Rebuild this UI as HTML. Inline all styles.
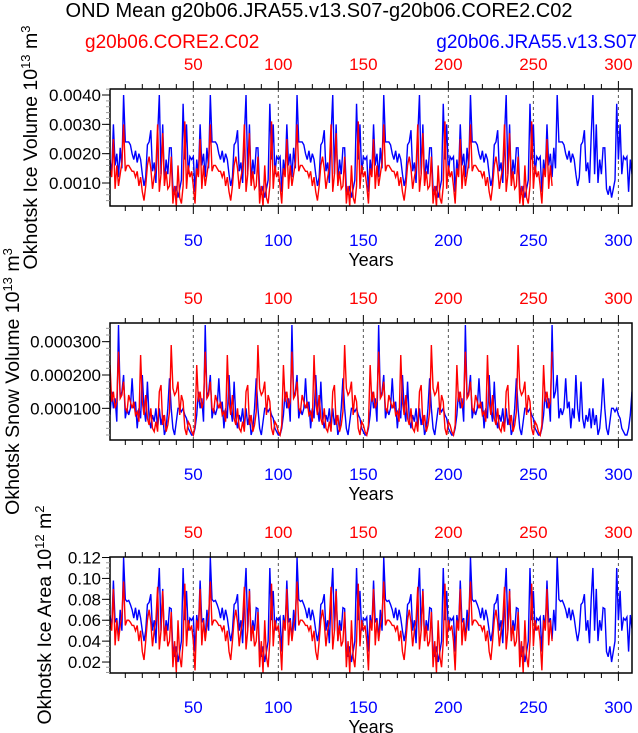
<!DOCTYPE html>
<html><head><meta charset="utf-8"><style>
html,body{margin:0;padding:0;background:#fff}
svg{display:block;font-family:"Liberation Sans",sans-serif}
</style></head><body>
<svg id="chart" width="638" height="733" viewBox="0 0 638 733" xmlns="http://www.w3.org/2000/svg">
<text x="319" y="17" font-size="20" text-anchor="middle">OND Mean g20b06.JRA55.v13.S07-g20b06.CORE2.C02</text>
<text x="85" y="48" font-size="19" fill="#ff0000">g20b06.CORE2.C02</text>
<text x="637" y="48" font-size="19" fill="#0000ff" text-anchor="end">g20b06.JRA55.v13.S07</text>
</svg>
<script>
// ---- data (one repeating forcing cycle, written out literally) ----
const volBlue=[.0018,.0013,.0030,.0016,.0020,.0012,.0022,.0015,.0040,.0024,.0024,.0024,.0023,.0020,.0018,.0021,.0017,.0020,.0018,.0013,.0009,.0012,.0023,.0024,.0028,.0014,.0017,.0010,.0026,.0040,.0013,.0030,.0010,.0018,.0013,.0022,.0022,.0008,.0006,.0009,.0005,.0008,.0011,.0037,.0018,.0030,.0013,.0019,.0018,.0019,.0007,
.0018,.0013,.0030,.0016,.0020,.0012,.0022,.0015,.0040,.0024,.0024,.0024,.0023,.0020,.0018,.0021,.0017,.0020,.0018,.0013,.0009,.0012,.0023,.0024,.0028,.0014,.0017,.0010,.0026,.0040,.0013,.0030,.0010,.0018,.0013,.0022,.0022,.0008,.0006,.0009,.0005,.0008,.0011,.0037,.0018,.0030,.0013,.0019,.0018,.0019,.0007,
.0018,.0013,.0030,.0016,.0020,.0012,.0022,.0015,.0040,.0024,.0024,.0024,.0023,.0020,.0018,.0021,.0017,.0020,.0018,.0013,.0009,.0012,.0023,.0024,.0028,.0014,.0017,.0010,.0026,.0040,.0013,.0030,.0010,.0018,.0013,.0022,.0022,.0008,.0006,.0009,.0005,.0008,.0011,.0037,.0018,.0030,.0013,.0019,.0018,.0019,.0007,
.0018,.0013,.0030,.0016,.0020,.0012,.0022,.0015,.0040,.0024,.0024,.0024,.0023,.0020,.0018,.0021,.0017,.0020,.0018,.0013,.0009,.0012,.0023,.0024,.0028,.0014,.0017,.0010,.0026,.0040,.0013,.0030,.0010,.0018,.0013,.0022,.0022,.0008,.0006,.0009,.0005,.0008,.0011,.0037,.0018,.0030,.0013,.0019,.0018,.0019,.0007,
.0018,.0013,.0030,.0016,.0020,.0012,.0022,.0015,.0040,.0024,.0024,.0024,.0023,.0020,.0018,.0021,.0017,.0020,.0018,.0013,.0009,.0012,.0023,.0024,.0028,.0014,.0017,.0010,.0026,.0040,.0013,.0030,.0010,.0018,.0013,.0022,.0022,.0008,.0006,.0009,.0005,.0008,.0011,.0037,.0018,.0030,.0013,.0019,.0018,.0019,.0007,
.0018,.0013,.0030,.0016,.0020,.0012,.0022,.0015,.0040,.0024,.0024,.0024,.0023,.0020,.0018,.0021,.0017,.0020,.0018,.0013,.0009,.0012,.0023,.0024,.0028,.0014,.0017,.0010,.0026,.0040,.0013,.0030,.0010,.0018,.0013,.0022,.0022,.0008,.0006,.0009,.0005,.0008,.0011,.0037,.0018,.0030,.0013,.0019,.0018,.0019,.0007,
.0018,.0013,.0030,.0016];
const volRed=[.0015,.0012,.0025,.0008,.0016,.0009,.0013,.0017,.0030,.0014,.0016,.0016,.0015,.0014,.0014,.0012,.0014,.0009,.0012,.0007,.0004,.0009,.0016,.0019,.0015,.0008,.0012,.0015,.0030,.0007,.0013,.0027,.0009,.0014,.0008,.0009,.0019,.0003,.0009,.0002,.0016,.0005,.0003,.0009,.0031,.0008,.0016,.0012,.0014,.0009,.0003,
.0015,.0012,.0025,.0008,.0016,.0009,.0013,.0017,.0030,.0014,.0016,.0016,.0015,.0014,.0014,.0012,.0014,.0009,.0012,.0007,.0004,.0009,.0016,.0019,.0015,.0008,.0012,.0015,.0030,.0007,.0013,.0027,.0009,.0014,.0008,.0009,.0019,.0003,.0009,.0002,.0016,.0005,.0003,.0009,.0031,.0008,.0016,.0012,.0014,.0009,.0003,
.0015,.0012,.0025,.0008,.0016,.0009,.0013,.0017,.0030,.0014,.0016,.0016,.0015,.0014,.0014,.0012,.0014,.0009,.0012,.0007,.0004,.0009,.0016,.0019,.0015,.0008,.0012,.0015,.0030,.0007,.0013,.0027,.0009,.0014,.0008,.0009,.0019,.0003,.0009,.0002,.0016,.0005,.0003,.0009,.0031,.0008,.0016,.0012,.0014,.0009,.0003,
.0015,.0012,.0025,.0008,.0016,.0009,.0013,.0017,.0030,.0014,.0016,.0016,.0015,.0014,.0014,.0012,.0014,.0009,.0012,.0007,.0004,.0009,.0016,.0019,.0015,.0008,.0012,.0015,.0030,.0007,.0013,.0027,.0009,.0014,.0008,.0009,.0019,.0003,.0009,.0002,.0016,.0005,.0003,.0009,.0031,.0008,.0016,.0012,.0014,.0009,.0003,
.0015,.0012,.0025,.0008,.0016,.0009,.0013,.0017,.0030,.0014,.0016,.0016,.0015,.0014,.0014,.0012,.0014,.0009,.0012,.0007,.0004,.0009,.0016,.0019,.0015,.0008,.0012,.0015,.0030,.0007,.0013,.0027,.0009,.0014,.0008,.0009,.0019,.0003,.0009,.0002,.0016,.0005,.0003,.0009,.0031,.0008,.0016,.0012,.0014,.0009,.0003,
.0015,.0012,.0025,.0008,.0016,.0009];
const snowBlue=[.00008,.00015,.0001,.00013,.00006,.00035,.00013,.00015,.0002,.00007,.0001,.00008,.0001,.00019,.0001,.00012,.00004,.0001,.00007,.0002,.0001,.00006,.00018,.00007,.00004,.00008,.00006,.0001,.00004,.0001,.00005,.00008,.00002,.00004,.0001,.00019,.0001,.00004,.00002,.00006,.0001,.0001,.00009,.0001,.00008,.00007,.00004,.00003,.00002,.00002,.00004,
.00008,.00015,.0001,.00013,.00006,.00035,.00013,.00015,.0002,.00007,.0001,.00008,.0001,.00019,.0001,.00012,.00004,.0001,.00007,.0002,.0001,.00006,.00018,.00007,.00004,.00008,.00006,.0001,.00004,.0001,.00005,.00008,.00002,.00004,.0001,.00019,.0001,.00004,.00002,.00006,.0001,.0001,.00009,.0001,.00008,.00007,.00004,.00003,.00002,.00002,.00004,
.00008,.00015,.0001,.00013,.00006,.00035,.00013,.00015,.0002,.00007,.0001,.00008,.0001,.00019,.0001,.00012,.00004,.0001,.00007,.0002,.0001,.00006,.00018,.00007,.00004,.00008,.00006,.0001,.00004,.0001,.00005,.00008,.00002,.00004,.0001,.00019,.0001,.00004,.00002,.00006,.0001,.0001,.00009,.0001,.00008,.00007,.00004,.00003,.00002,.00002,.00004,
.00008,.00015,.0001,.00013,.00006,.00035,.00013,.00015,.0002,.00007,.0001,.00008,.0001,.00019,.0001,.00012,.00004,.0001,.00007,.0002,.0001,.00006,.00018,.00007,.00004,.00008,.00006,.0001,.00004,.0001,.00005,.00008,.00002,.00004,.0001,.00019,.0001,.00004,.00002,.00006,.0001,.0001,.00009,.0001,.00008,.00007,.00004,.00003,.00002,.00002,.00004,
.00008,.00015,.0001,.00013,.00006,.00035,.00013,.00015,.0002,.00007,.0001,.00008,.0001,.00019,.0001,.00012,.00004,.0001,.00007,.0002,.0001,.00006,.00018,.00007,.00004,.00008,.00006,.0001,.00004,.0001,.00005,.00008,.00002,.00004,.0001,.00019,.0001,.00004,.00002,.00006,.0001,.0001,.00009,.0001,.00008,.00007,.00004,.00003,.00002,.00002,.00004,
.00008,.00015,.0001,.00013,.00006,.00035,.00013,.00015,.0002,.00007,.0001,.00008,.0001,.00019,.0001,.00012,.00004,.0001,.00007,.0002,.0001,.00006,.00018,.00007,.00004,.00008,.00006,.0001,.00004,.0001,.00005,.00008,.00002,.00004,.0001,.00019,.0001,.00004,.00002,.00006,.0001,.0001,.00009,.0001,.00008,.00007,.00004,.00003,.00002,.00002,.00004,
.00008,.00015,.0001,.00013];
const snowRed=[.00023,.00012,.00015,.0001,.00012,.00027,.00013,.00014,.00018,.0001,.00009,.00014,.00012,.0001,.00012,.00008,.00009,.00006,.00026,.00012,.00008,.00014,.00007,.00005,.0001,.00004,.00003,.00006,.00003,.00015,.00017,.00005,.00008,.00003,.00005,.00009,.00029,.00016,.00014,.00015,.00018,.00008,.00014,.00012,.00004,.00002,.00006,.00005,.00003,.00002,.00005,
.00023,.00012,.00015,.0001,.00012,.00027,.00013,.00014,.00018,.0001,.00009,.00014,.00012,.0001,.00012,.00008,.00009,.00006,.00026,.00012,.00008,.00014,.00007,.00005,.0001,.00004,.00003,.00006,.00003,.00015,.00017,.00005,.00008,.00003,.00005,.00009,.00029,.00016,.00014,.00015,.00018,.00008,.00014,.00012,.00004,.00002,.00006,.00005,.00003,.00002,.00005,
.00023,.00012,.00015,.0001,.00012,.00027,.00013,.00014,.00018,.0001,.00009,.00014,.00012,.0001,.00012,.00008,.00009,.00006,.00026,.00012,.00008,.00014,.00007,.00005,.0001,.00004,.00003,.00006,.00003,.00015,.00017,.00005,.00008,.00003,.00005,.00009,.00029,.00016,.00014,.00015,.00018,.00008,.00014,.00012,.00004,.00002,.00006,.00005,.00003,.00002,.00005,
.00023,.00012,.00015,.0001,.00012,.00027,.00013,.00014,.00018,.0001,.00009,.00014,.00012,.0001,.00012,.00008,.00009,.00006,.00026,.00012,.00008,.00014,.00007,.00005,.0001,.00004,.00003,.00006,.00003,.00015,.00017,.00005,.00008,.00003,.00005,.00009,.00029,.00016,.00014,.00015,.00018,.00008,.00014,.00012,.00004,.00002,.00006,.00005,.00003,.00002,.00005,
.00023,.00012,.00015,.0001,.00012,.00027,.00013,.00014,.00018,.0001,.00009,.00014,.00012,.0001,.00012,.00008,.00009,.00006,.00026,.00012,.00008,.00014,.00007,.00005,.0001,.00004,.00003,.00006,.00003,.00015,.00017,.00005,.00008,.00003,.00005,.00009,.00029,.00016,.00014,.00015,.00018,.00008,.00014,.00012,.00004,.00002,.00006,.00005,.00003,.00002,.00005,
.00023,.00012,.00015,.0001,.00012,.00027];
const areaBlue=[.065,.052,.098,.058,.062,.042,.07,.05,.12,.08,.078,.079,.075,.07,.062,.072,.06,.07,.062,.05,.04,.05,.075,.077,.085,.05,.06,.038,.08,.11,.05,.09,.04,.06,.05,.072,.071,.03,.025,.035,.02,.03,.04,.11,.06,.088,.05,.062,.06,.063,.03,
.065,.052,.098,.058,.062,.042,.07,.05,.12,.08,.078,.079,.075,.07,.062,.072,.06,.07,.062,.05,.04,.05,.075,.077,.085,.05,.06,.038,.08,.11,.05,.09,.04,.06,.05,.072,.071,.03,.025,.035,.02,.03,.04,.11,.06,.088,.05,.062,.06,.063,.03,
.065,.052,.098,.058,.062,.042,.07,.05,.12,.08,.078,.079,.075,.07,.062,.072,.06,.07,.062,.05,.04,.05,.075,.077,.085,.05,.06,.038,.08,.11,.05,.09,.04,.06,.05,.072,.071,.03,.025,.035,.02,.03,.04,.11,.06,.088,.05,.062,.06,.063,.03,
.065,.052,.098,.058,.062,.042,.07,.05,.12,.08,.078,.079,.075,.07,.062,.072,.06,.07,.062,.05,.04,.05,.075,.077,.085,.05,.06,.038,.08,.11,.05,.09,.04,.06,.05,.072,.071,.03,.025,.035,.02,.03,.04,.11,.06,.088,.05,.062,.06,.063,.03,
.065,.052,.098,.058,.062,.042,.07,.05,.12,.08,.078,.079,.075,.07,.062,.072,.06,.07,.062,.05,.04,.05,.075,.077,.085,.05,.06,.038,.08,.11,.05,.09,.04,.06,.05,.072,.071,.03,.025,.035,.02,.03,.04,.11,.06,.088,.05,.062,.06,.063,.03,
.065,.052,.098,.058,.062,.042,.07,.05,.12,.08,.078,.079,.075,.07,.062,.072,.06,.07,.062,.05,.04,.05,.075,.077,.085,.05,.06,.038,.08,.11,.05,.09,.04,.06,.05,.072,.071,.03,.025,.035,.02,.03,.04,.11,.06,.088,.05,.062,.06,.063,.03,
.065,.052,.098,.058];
const areaRed=[.06,.05,.09,.036,.06,.04,.055,.065,.097,.055,.06,.06,.058,.055,.055,.05,.055,.04,.05,.03,.022,.04,.06,.07,.058,.035,.05,.06,.092,.032,.05,.088,.04,.055,.035,.04,.068,.015,.04,.01,.06,.025,.015,.04,.095,.035,.06,.05,.055,.04,.012,
.06,.05,.09,.036,.06,.04,.055,.065,.097,.055,.06,.06,.058,.055,.055,.05,.055,.04,.05,.03,.022,.04,.06,.07,.058,.035,.05,.06,.092,.032,.05,.088,.04,.055,.035,.04,.068,.015,.04,.01,.06,.025,.015,.04,.095,.035,.06,.05,.055,.04,.012,
.06,.05,.09,.036,.06,.04,.055,.065,.097,.055,.06,.06,.058,.055,.055,.05,.055,.04,.05,.03,.022,.04,.06,.07,.058,.035,.05,.06,.092,.032,.05,.088,.04,.055,.035,.04,.068,.015,.04,.01,.06,.025,.015,.04,.095,.035,.06,.05,.055,.04,.012,
.06,.05,.09,.036,.06,.04,.055,.065,.097,.055,.06,.06,.058,.055,.055,.05,.055,.04,.05,.03,.022,.04,.06,.07,.058,.035,.05,.06,.092,.032,.05,.088,.04,.055,.035,.04,.068,.015,.04,.01,.06,.025,.015,.04,.095,.035,.06,.05,.055,.04,.012,
.06,.05,.09,.036,.06,.04,.055,.065,.097,.055,.06,.06,.058,.055,.055,.05,.055,.04,.05,.03,.022,.04,.06,.07,.058,.035,.05,.06,.092,.032,.05,.088,.04,.055,.035,.04,.068,.015,.04,.01,.06,.025,.015,.04,.095,.035,.06,.05,.055,.04,.012,
.06,.05,.09,.036,.06,.04];
const xTicks=[50,100,150,200,250,300];
const volTicks=[0.001,0.002,0.003,0.004];
const volTickLabels=["0.0010","0.0020","0.0030","0.0040"];
const snowTicks=[0.0001,0.0002,0.0003];
const snowTickLabels=["0.000100","0.000200","0.000300"];
const areaTicks=[0.02,0.04,0.06,0.08,0.10,0.12];
const areaTickLabels=["0.02","0.04","0.06","0.08","0.10","0.12"];

const NS="http://www.w3.org/2000/svg";
const svg=document.getElementById('chart');
const X0=110,X1=632,XMIN=1,XMAX=308;
function xs(v){return X0+(v-XMIN)/(XMAX-XMIN)*(X1-X0);}
function mk(tag,attrs,parent){const e=document.createElementNS(NS,tag);for(const k in attrs)e.setAttribute(k,attrs[k]);(parent||svg).appendChild(e);return e;}

const panels=[
 {key:'ice-volume',top:89,bot:206,ymin:0.000216,ymax:0.004205,ticks:volTicks,labels:volTickLabels,minor:0.0002,blue:volBlue,red:volRed,title:['Okhotsk Ice Volume 10','13',' m','3'],tx:30},
 {key:'snow-volume',top:323,bot:440,ymin:0.000005,ymax:0.000356,ticks:snowTicks,labels:snowTickLabels,minor:0.00002,blue:snowBlue,red:snowRed,title:['Okhotsk Snow Volume 10','13',' m','3'],tx:12},
 {key:'ice-area',top:557,bot:673,ymin:0.0095,ymax:0.1205,ticks:areaTicks,labels:areaTickLabels,minor:0.005,blue:areaBlue,red:areaRed,title:['Okhotsk Ice Area 10','12',' m','2'],tx:44}
];

panels.forEach((p,pi)=>{
  const g=mk('g',{});
  
  
  const ys=v=>p.bot-(v-p.ymin)/(p.ymax-p.ymin)*(p.bot-p.top);
  const cp=mk('clipPath',{id:'clip'+pi},g);
  mk('rect',{x:X0,y:p.top,width:X1-X0,height:p.bot-p.top},cp);
  xTicks.forEach(t=>{const l=mk('line',{x1:xs(t),x2:xs(t),y1:p.top,y2:p.bot,stroke:'#555','stroke-width':1,'stroke-dasharray':'3,3'},g);
    
    });
  [['blue',p.blue,'#0000ff'],['red',p.red,'#ff0000']].forEach(([n,arr,c])=>{
    const d=arr.map((v,i)=>(i?'L':'M')+xs(i+1).toFixed(2)+','+ys(v).toFixed(2)).join('');
    const path=mk('path',{d:d,fill:'none',stroke:c,'stroke-width':1.4,'clip-path':'url(#clip'+pi+')'},g);
    
    
  });
  const fr=mk('rect',{x:X0,y:p.top,width:X1-X0,height:p.bot-p.top,fill:'none',stroke:'#000','stroke-width':1.5},g);
  
  
  for(let t=10;t<=XMAX;t+=10){
    const major=t%50===0,len=major?8:5;
    mk('line',{x1:xs(t),x2:xs(t),y1:p.bot,y2:p.bot+len,stroke:'#000','stroke-width':1},g);
    mk('line',{x1:xs(t),x2:xs(t),y1:p.top,y2:p.top-len,stroke:'#000','stroke-width':1},g);
  }
  xTicks.forEach(t=>{
    const b=mk('text',{x:xs(t),y:p.bot+40,'font-size':17,'text-anchor':'middle',fill:'#0000ff'},g);b.textContent=t;
    
    
    const r=mk('text',{x:xs(t),y:p.top-19,'font-size':17,'text-anchor':'middle',fill:'#ff0000'},g);r.textContent=t;
    
    
  });
  const yt=mk('text',{x:(X0+X1)/2,y:p.bot+60,'font-size':18,'text-anchor':'middle'},g);yt.textContent='Years';
  
  
  for(let v=Math.ceil(p.ymin/p.minor)*p.minor;v<=p.ymax;v+=p.minor){
    mk('line',{x1:X0,x2:X0-4,y1:ys(v),y2:ys(v),stroke:'#999','stroke-width':1},g);
  }
  p.ticks.forEach((t,i)=>{
    mk('line',{x1:X0,x2:X0-8,y1:ys(t),y2:ys(t),stroke:'#000','stroke-width':1},g);
    const l=mk('text',{x:X0-9,y:ys(t)+6,'font-size':17,'text-anchor':'end'},g);l.textContent=p.labels[i];
    
    
  });
  const cy=(p.top+p.bot)/2;
  const tt=mk('text',{x:0,y:0,'font-size':19.5,'text-anchor':'middle',transform:'translate('+(p.tx+7)+','+cy+') rotate(-90)'},g);
  
  
  const s1=mk('tspan',{},tt);s1.textContent=p.title[0];
  const s2=mk('tspan',{dy:-7,'font-size':13},tt);s2.textContent=p.title[1];
  const s3=mk('tspan',{dy:7},tt);s3.textContent=p.title[2];
  const s4=mk('tspan',{dy:-7,'font-size':13},tt);s4.textContent=p.title[3];
});
</script>
</body></html>
